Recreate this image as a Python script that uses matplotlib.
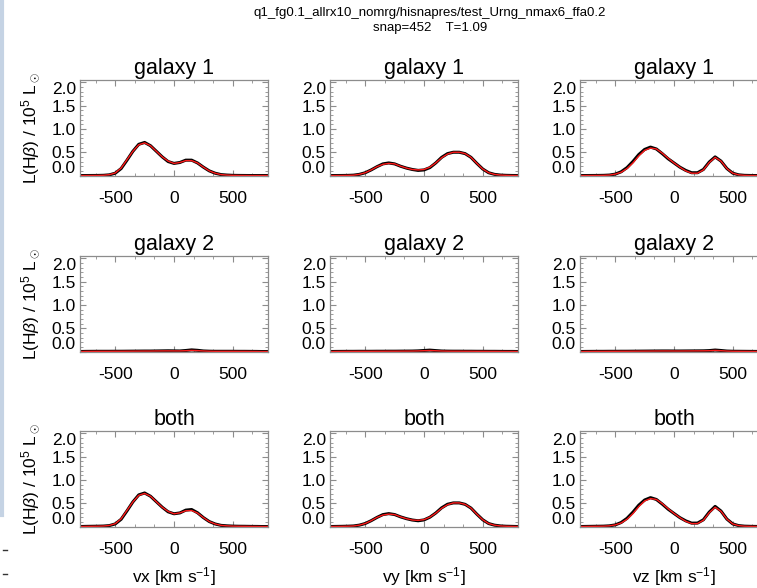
import matplotlib
matplotlib.use('Agg')
import matplotlib.pyplot as plt
from matplotlib.ticker import MultipleLocator, FixedLocator
from matplotlib.lines import Line2D

plt.rcParams['font.family'] = ['Liberation Sans', 'DejaVu Sans']
plt.rcParams['mathtext.fontset'] = 'custom'
plt.rcParams['mathtext.rm'] = 'Liberation Sans'
plt.rcParams['mathtext.it'] = 'Liberation Sans:italic'
plt.rcParams['mathtext.bf'] = 'Liberation Sans:bold'

RUN_NAME = 'q1_fg0.1_allrx10_nomrg/hisnapres/test_Urng_nmax6_ffa0.2'
SNAP_LINE = 'snap=452    T=1.09'

ROW_TITLES = ['galaxy 1', 'galaxy 2', 'both']
COL_XLABELS = [r'vx [km s$^{-1}$]', r'vy [km s$^{-1}$]', r'vz [km s$^{-1}$]']
YLABEL = r'L(H$\beta$) / 10$^5$ L$_\odot$'
YTICKS = [0.0, 0.5, 1.0, 1.5, 2.0]
XTICKS = [-500, 0, 500]

# line-of-sight velocity grid (km/s)
vel = [-800, -750, -700, -650, -600, -550, -500, -450, -400, -350, -300,
       -250, -200, -150, -100, -50, 0, 50, 100, 150, 200, 250, 300, 350,
       400, 450, 500, 550, 600, 650, 700, 750, 800]

g1_vx_black = [0, 0, 0.001, 0.002, 0.005, 0.015, 0.05, 0.15, 0.33, 0.52, 0.67,
               0.71, 0.64, 0.52, 0.40, 0.30, 0.26, 0.28, 0.33, 0.33, 0.27, 0.18, 0.10, 0.05,
               0.02, 0.01, 0.004, 0.002, 0.001, 0, 0, 0, 0]
g1_vx_red = [0, 0, 0.001, 0.002, 0.006, 0.018, 0.055, 0.16, 0.34, 0.52, 0.66,
             0.70, 0.64, 0.52, 0.40, 0.31, 0.26, 0.28, 0.32, 0.32, 0.27, 0.18, 0.10, 0.05,
             0.02, 0.01, 0.004, 0.002, 0.001, 0, 0, 0, 0]
g1_vy_black = [0, 0, 0.001, 0.003, 0.008, 0.025, 0.06, 0.12, 0.19, 0.25, 0.27,
               0.25, 0.20, 0.16, 0.13, 0.11, 0.12, 0.17, 0.27, 0.39, 0.47, 0.50, 0.50, 0.47,
               0.39, 0.26, 0.14, 0.06, 0.025, 0.01, 0.004, 0.001, 0]
g1_vy_red = [0, 0, 0.001, 0.003, 0.008, 0.025, 0.06, 0.12, 0.19, 0.24, 0.26,
             0.25, 0.20, 0.16, 0.13, 0.12, 0.13, 0.18, 0.27, 0.38, 0.46, 0.50, 0.50, 0.47,
             0.39, 0.26, 0.14, 0.06, 0.025, 0.01, 0.004, 0.001, 0]
g1_vz_black = [0, 0, 0.001, 0.002, 0.004, 0.01, 0.03, 0.08, 0.17, 0.30, 0.45,
               0.56, 0.61, 0.57, 0.47, 0.36, 0.27, 0.18, 0.11, 0.06, 0.06, 0.13, 0.29, 0.40,
               0.31, 0.15, 0.05, 0.015, 0.004, 0.001, 0, 0, 0]
g1_vz_red = [0, 0, 0.001, 0.002, 0.004, 0.01, 0.03, 0.07, 0.15, 0.27, 0.42,
             0.54, 0.59, 0.57, 0.48, 0.37, 0.27, 0.18, 0.10, 0.05, 0.05, 0.12, 0.28, 0.39,
             0.31, 0.15, 0.05, 0.015, 0.004, 0.001, 0, 0, 0]

g2_vx_black = [0, 0.003, 0.004, 0.005, 0.005, 0.005, 0.006, 0.006, 0.007, 0.008, 0.009,
               0.01, 0.01, 0.012, 0.014, 0.016, 0.014, 0.012, 0.022, 0.035, 0.026, 0.012, 0.007, 0.005,
               0.005, 0.005, 0.005, 0.004, 0.004, 0.003, 0.002, 0, 0]
g2_vx_red = [0, 0.003, 0.004, 0.005, 0.005, 0.005, 0.006, 0.006, 0.007, 0.008, 0.009,
             0.01, 0.01, 0.012, 0.013, 0.014, 0.013, 0.013, 0.018, 0.024, 0.02, 0.012, 0.007, 0.005,
             0.005, 0.005, 0.005, 0.004, 0.004, 0.003, 0.002, 0, 0]
g2_vy_black = [0, 0.002, 0.003, 0.004, 0.004, 0.005, 0.005, 0.005, 0.006, 0.006, 0.007,
               0.007, 0.008, 0.009, 0.01, 0.014, 0.022, 0.03, 0.02, 0.011, 0.008, 0.007, 0.007, 0.006,
               0.006, 0.005, 0.005, 0.004, 0.004, 0.003, 0.002, 0.002, 0]
g2_vy_red = [0, 0.002, 0.003, 0.004, 0.004, 0.005, 0.005, 0.005, 0.006, 0.006, 0.007,
             0.007, 0.008, 0.009, 0.01, 0.013, 0.018, 0.022, 0.017, 0.011, 0.008, 0.007, 0.007, 0.006,
             0.006, 0.005, 0.005, 0.004, 0.004, 0.003, 0.002, 0.002, 0]
g2_vz_black = [0, 0.002, 0.003, 0.004, 0.004, 0.005, 0.005, 0.006, 0.006, 0.007, 0.008,
               0.009, 0.01, 0.011, 0.012, 0.012, 0.011, 0.011, 0.012, 0.013, 0.014, 0.015, 0.02, 0.032,
               0.022, 0.01, 0.006, 0.005, 0.004, 0.003, 0.002, 0, 0]
g2_vz_red = [0, 0.002, 0.003, 0.004, 0.004, 0.005, 0.005, 0.006, 0.006, 0.007, 0.008,
             0.009, 0.01, 0.011, 0.012, 0.012, 0.011, 0.011, 0.012, 0.013, 0.014, 0.015, 0.018, 0.024,
             0.018, 0.01, 0.006, 0.005, 0.004, 0.003, 0.002, 0, 0]

both_vx_black = [0, 0.003, 0.005, 0.007, 0.01, 0.02, 0.056, 0.156, 0.337, 0.528, 0.679,
                 0.72, 0.65, 0.532, 0.414, 0.316, 0.274, 0.292, 0.352, 0.365, 0.296, 0.192, 0.107, 0.055,
                 0.025, 0.015, 0.009, 0.006, 0.005, 0.003, 0.002, 0, 0]
both_vx_red = [0, 0.003, 0.005, 0.007, 0.011, 0.023, 0.061, 0.166, 0.347, 0.528, 0.669,
               0.71, 0.65, 0.532, 0.413, 0.324, 0.273, 0.293, 0.338, 0.344, 0.29, 0.192, 0.107, 0.055,
               0.025, 0.015, 0.009, 0.006, 0.005, 0.003, 0.002, 0, 0]
both_vy_black = [0, 0.002, 0.004, 0.007, 0.012, 0.03, 0.065, 0.125, 0.196, 0.256, 0.277,
                 0.257, 0.208, 0.169, 0.14, 0.124, 0.142, 0.2, 0.29, 0.401, 0.478, 0.507, 0.507, 0.476,
                 0.396, 0.265, 0.145, 0.064, 0.029, 0.013, 0.006, 0.003, 0]
both_vy_red = [0, 0.002, 0.004, 0.007, 0.012, 0.03, 0.065, 0.125, 0.196, 0.246, 0.267,
               0.257, 0.208, 0.169, 0.14, 0.133, 0.148, 0.202, 0.287, 0.391, 0.468, 0.507, 0.507, 0.476,
               0.396, 0.265, 0.145, 0.064, 0.029, 0.013, 0.006, 0.003, 0]
both_vz_black = [0, 0.002, 0.004, 0.006, 0.008, 0.015, 0.035, 0.086, 0.176, 0.307, 0.458,
                 0.569, 0.62, 0.581, 0.482, 0.372, 0.281, 0.191, 0.122, 0.073, 0.074, 0.145, 0.31, 0.432,
                 0.332, 0.16, 0.056, 0.02, 0.008, 0.004, 0.002, 0, 0]
both_vz_red = [0, 0.002, 0.004, 0.006, 0.008, 0.015, 0.035, 0.076, 0.156, 0.277, 0.428,
               0.549, 0.60, 0.581, 0.492, 0.382, 0.281, 0.191, 0.112, 0.063, 0.064, 0.135, 0.298, 0.414,
               0.328, 0.16, 0.056, 0.02, 0.008, 0.004, 0.002, 0, 0]

PROFILES = [
    [(g1_vx_black, g1_vx_red), (g1_vy_black, g1_vy_red), (g1_vz_black, g1_vz_red)],
    [(g2_vx_black, g2_vx_red), (g2_vy_black, g2_vy_red), (g2_vz_black, g2_vz_red)],
    [(both_vx_black, both_vx_red), (both_vy_black, both_vy_red), (both_vz_black, both_vz_red)],
]

# layout in pixels (figure is 757 x 588)
FIG_W, FIG_H = 757, 588
COL_LEFT = [80, 330, 580]
ROW_TOP = [80, 256, 431]
BOX_W, BOX_H = 188, 96
AXIS_GREY = '#8c8c8c'


def style_axes(ax):
    ax.set_xlim(-800, 800)
    ax.set_ylim(-0.01, 2.05)
    ax.xaxis.set_major_locator(FixedLocator(XTICKS))
    ax.xaxis.set_minor_locator(MultipleLocator(500 / 3))
    ax.yaxis.set_major_locator(FixedLocator(YTICKS))
    ax.yaxis.set_minor_locator(MultipleLocator(0.1))
    ax.set_xticklabels(['%d' % t for t in XTICKS])
    ax.set_yticklabels(['%.1f' % t for t in YTICKS])
    ax.tick_params(which='both', direction='in', top=True, right=True,
                   color=AXIS_GREY, labelsize=12.5)
    ax.tick_params(which='major', length=4, width=0.8)
    ax.tick_params(which='minor', length=2, width=0.6)
    ax.tick_params(axis='x', pad=11)
    ax.tick_params(axis='y', pad=3)
    for sp in ax.spines.values():
        sp.set_color(AXIS_GREY)
        sp.set_linewidth(0.9)
    # IDL-style: bottom/top labels kept inside the box
    yt = ax.yaxis.get_major_ticks()
    yt[0].label1.set_va('bottom')
    yt[-1].label1.set_va('top')


def main():
    fig = plt.figure(figsize=(FIG_W / 100, FIG_H / 100), dpi=100)

    # screenshot edge artefacts on the left
    fig.add_artist(Line2D([2 / FIG_W, 2 / FIG_W], [1, 1 - 515 / FIG_H],
                          transform=fig.transFigure, color='#c5d3e4', lw=3))
    for yy in [550, 574]:
        fig.add_artist(Line2D([3 / FIG_W, 7 / FIG_W], [1 - yy / FIG_H] * 2,
                              transform=fig.transFigure, color='#333333', lw=1))

    fig.text(430 / FIG_W, 1 - 13 / FIG_H, RUN_NAME, ha='center', va='center', fontsize=9.5)
    fig.text(430 / FIG_W, 1 - 28 / FIG_H, SNAP_LINE, ha='center', va='center', fontsize=9.5)

    for r in range(3):
        for c in range(3):
            rect = [COL_LEFT[c] / FIG_W, 1 - (ROW_TOP[r] + BOX_H) / FIG_H,
                    BOX_W / FIG_W, BOX_H / FIG_H]
            ax = fig.add_axes(rect)
            black, red = PROFILES[r][c]
            ax.plot(vel, black, color='black', lw=2.2, solid_capstyle='round')
            ax.plot(vel, red, color='#ff1a1a', lw=1.0)
            style_axes(ax)
            ax.set_title(ROW_TITLES[r], fontsize=15.5, pad=4)
            if c == 0:
                ax.set_ylabel(YLABEL, fontsize=12.5)
                ax.yaxis.set_label_coords(-0.20, 0.5)
            if r == 2:
                ax.set_xlabel(COL_XLABELS[c], fontsize=12.5)
                ax.xaxis.set_label_coords(0.5, -0.40)

    fig.savefig('out.png', dpi=100)
    plt.close(fig)


if __name__ == '__main__':
    main()
